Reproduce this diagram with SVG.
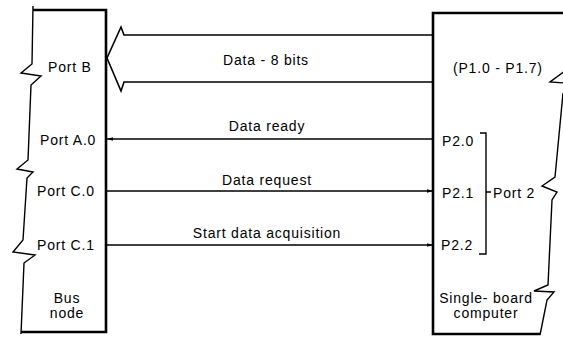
<svg xmlns="http://www.w3.org/2000/svg" width="563" height="337" viewBox="0 0 563 337">
<style>
text{font-family:"Liberation Sans",Arial,sans-serif;font-size:14px;fill:#000;letter-spacing:0.8px}
.c{text-anchor:middle}
.thick{fill:none;stroke:#000;stroke-width:2.6}
.thin{fill:none;stroke:#000;stroke-width:1.4;stroke-linejoin:miter}
.wire{fill:none;stroke:#000;stroke-width:1.6}
</style>
<defs>
<marker id="ah" viewBox="0 0 10 6" refX="10" refY="3" markerWidth="6" markerHeight="3.6" markerUnits="userSpaceOnUse" orient="auto">
<path d="M0,0 L10,3 L0,6 Z" fill="#000"/>
</marker>
</defs>
<rect width="563" height="337" fill="#fff"/>
<g id="bus-node">
<path class="thick" d="M33,10 L106,10 L106,332 L21,332"/>
<path class="thin" d="M33,6 L32,64 L21,73 L41,76 L31,85 L28,160 L17,169 L33,172 L27,178 L23,240 L13,252 L35,255 L24,263 L21,334"/>
<text x="48" y="72">Port B</text>
<text x="40" y="145">Port A.0</text>
<text x="37" y="196">Port C.0</text>
<text x="37" y="250">Port C.1</text>
<text class="c" x="67" y="303">Bus</text>
<text class="c" x="67" y="318">node</text>
</g>
<g id="single-board-computer">
<path class="thick" d="M565,13 L433,13 L433,334 L540,334"/>
<path class="thin" d="M565,71 L550,82 L565,83 M563,93 L555,177 L542,186 L557,192 L552,200 L548,285 L534,291 L554,292 L547,300 L540,335"/>
<text x="453" y="73">(P1.0 - P1.7)</text>
<text x="442" y="146">P2.0</text>
<text x="442" y="198">P2.1</text>
<text x="441" y="250">P2.2</text>
<path class="thin" d="M480,133 L486,133 L486,254 L479,254 M486,192 L491,192"/>
<text x="493" y="198">Port 2</text>
<text class="c" x="486" y="303">Single- board</text>
<text class="c" x="486" y="318">computer</text>
</g>
<g id="connectors">
<path class="wire" d="M433,35 L124,35 L121,27 L107,58 L121,91 L124,82 L433,82" stroke-width="2"/>
<text class="c" x="266" y="65">Data - 8 bits</text>
<line class="wire" x1="433" y1="139" x2="107" y2="139" marker-end="url(#ah)"/>
<text class="c" x="267" y="131">Data ready</text>
<line class="wire" x1="106" y1="191" x2="433" y2="191" marker-end="url(#ah)"/>
<text class="c" x="267" y="185">Data request</text>
<line class="wire" x1="106" y1="245" x2="433" y2="245" marker-end="url(#ah)"/>
<text class="c" x="267" y="238">Start data acquisition</text>
</g>
</svg>
